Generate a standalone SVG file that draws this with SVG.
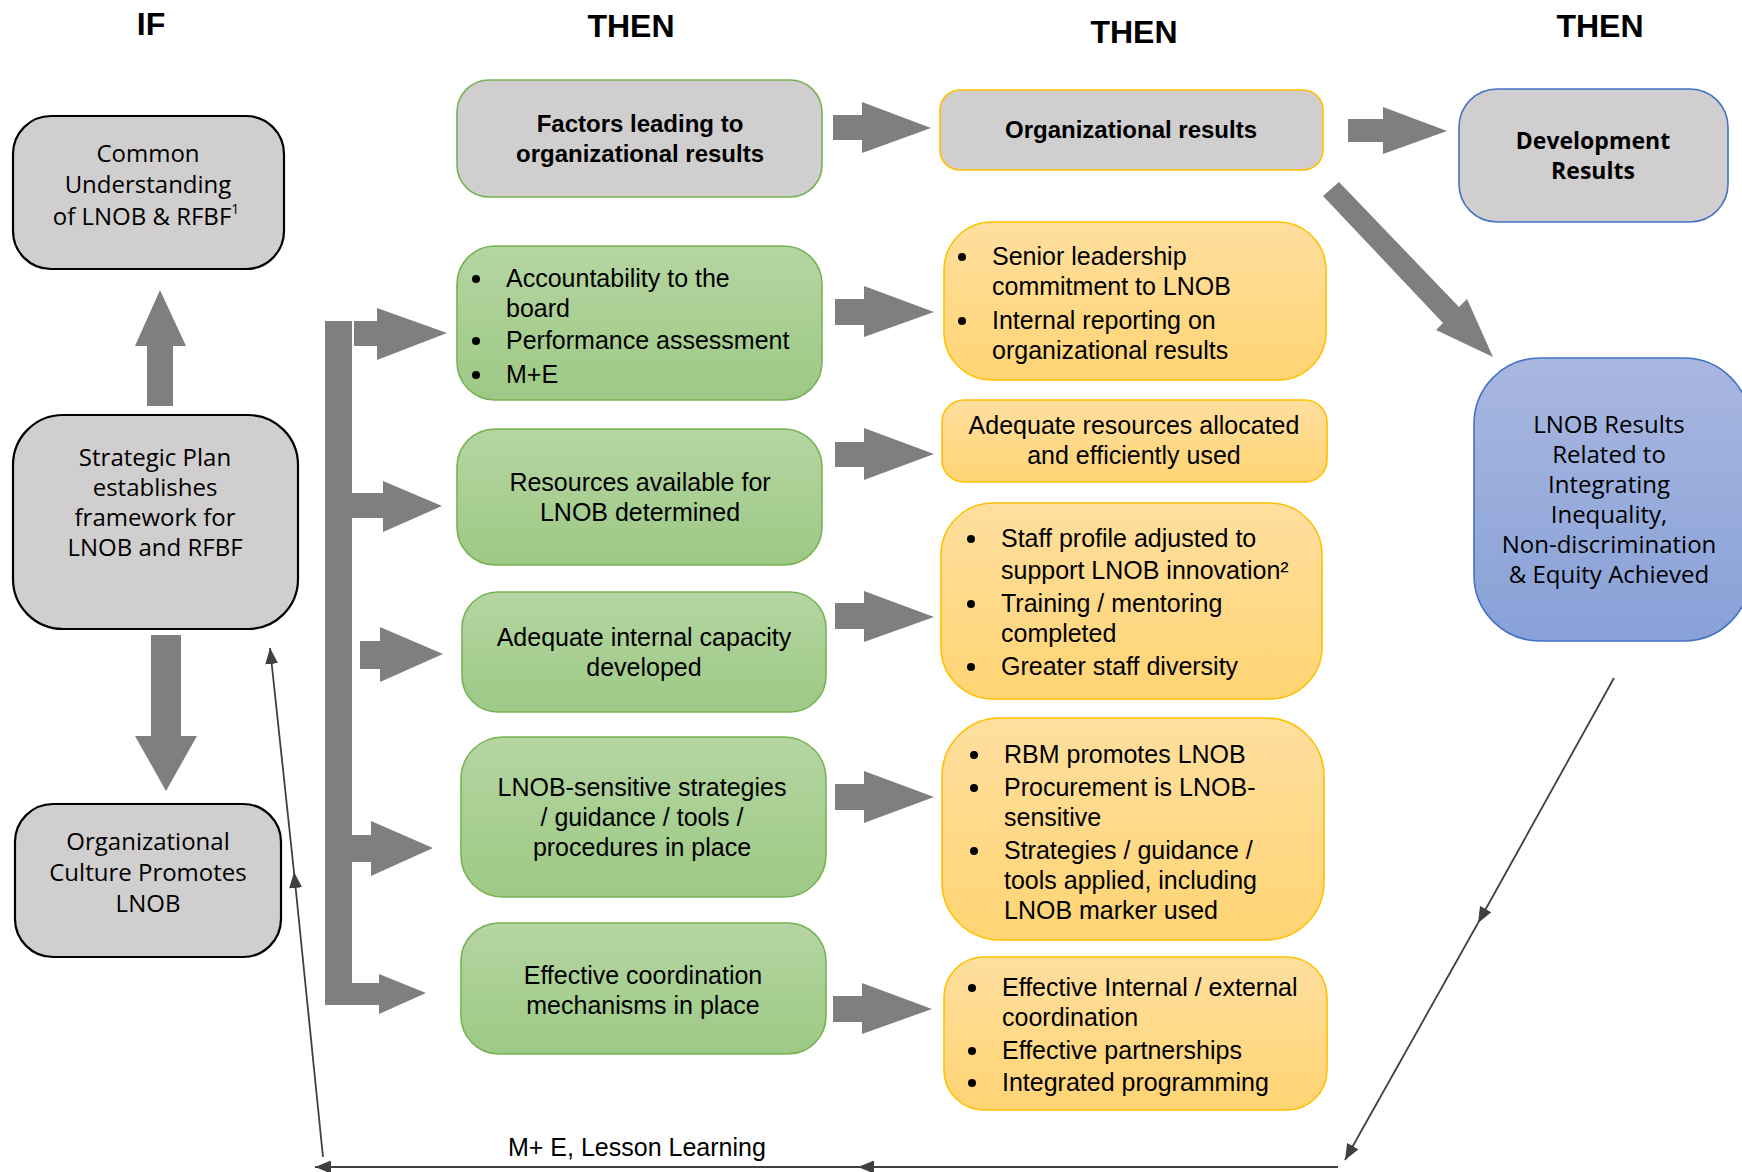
<svg xmlns="http://www.w3.org/2000/svg" width="1742" height="1172" viewBox="0 0 1742 1172">
<defs>
<linearGradient id="gGreen" x1="0" y1="0" x2="0" y2="1"><stop offset="0" stop-color="#B5D5A2"/><stop offset="1" stop-color="#9DC985"/></linearGradient>
<linearGradient id="gOrange" x1="0" y1="0" x2="0" y2="1"><stop offset="0" stop-color="#FFDF9F"/><stop offset="1" stop-color="#FFD473"/></linearGradient>
<linearGradient id="gBlue" x1="0" y1="0" x2="0" y2="1"><stop offset="0" stop-color="#A9B7E0"/><stop offset="1" stop-color="#88A1D8"/></linearGradient>
<marker id="ah" viewBox="0 0 10 10" refX="10" refY="5" markerWidth="16" markerHeight="13" markerUnits="userSpaceOnUse" orient="auto" preserveAspectRatio="none"><path d="M0,0 L10,5 L0,10 z" fill="#404040"/></marker>
<style>
.hdr{font-family:"Liberation Sans",Arial,sans-serif;font-weight:bold;font-size:32px;text-anchor:middle;fill:#000}
.lbox{fill:#D0CECE;stroke:#000;stroke-width:2.2}
.lt{font-family:"Open Sans","Noto Sans",sans-serif;font-size:24px;text-anchor:middle;fill:#000}
.gbox{fill:url(#gGreen);stroke:#77B255;stroke-width:1.6}
.obox{fill:url(#gOrange);stroke:#FFC000;stroke-width:1.6}
.t{font-family:"Liberation Sans",Arial,sans-serif;font-size:25px;fill:#000}
.c{text-anchor:middle}
.b{font-weight:bold;font-size:24px}
.ob{font-family:"Open Sans","Noto Sans",sans-serif;font-weight:bold;font-size:23px;text-anchor:middle;fill:#000}
.blk{fill:#7F7F7F}
.dot{fill:#000}
.thin{stroke:#404040;stroke-width:1.8;fill:none;marker-end:url(#ah)}
</style>
</defs>
<rect width="1742" height="1172" fill="#fff"/>

<g id="headers">
<text class="hdr" x="151" y="35">IF</text>
<text class="hdr" x="631" y="37">THEN</text>
<text class="hdr" x="1134" y="43">THEN</text>
<text class="hdr" x="1600" y="37">THEN</text>
</g>

<g id="connectors">
<polygon class="blk" points="147,406 173,406 173,346 186,346 160,290 135,346 147,346"/>
<polygon class="blk" points="151,635 181,635 181,736 197,736 166,791 135,736 151,736"/>
<rect class="blk" x="325" y="321" width="27" height="684"/>
<polygon class="blk" points="354,321 377,321 377,308 447,333 377,360 377,346 354,346"/>
<polygon class="blk" points="352,493 383,493 383,481 442,506 383,532 383,518 352,518"/>
<polygon class="blk" points="360,641 380,641 380,627 443,654 380,682 380,669 360,669"/>
<polygon class="blk" points="352,835 371,835 371,821 433,848 371,876 371,862 352,862"/>
<polygon class="blk" points="352,983 379,983 379,974 426,993 379,1014 379,1005 352,1005"/>
<polygon class="blk" points="833,115 862,115 862,102 931,128 862,153 862,140 833,140"/>
<polygon class="blk" points="835,299 864,299 864,286 934,312 864,337 864,325 835,325"/>
<polygon class="blk" points="835,442 864,442 864,428 934,454 864,480 864,467 835,467"/>
<polygon class="blk" points="835,603 864,603 864,591 934,617 864,642 864,629 835,629"/>
<polygon class="blk" points="835,784 864,784 864,771 934,797 864,823 864,810 835,810"/>
<polygon class="blk" points="833,996 862,996 862,983 932,1009 862,1034 862,1022 833,1022"/>
<polygon class="blk" points="1348,119 1383,119 1383,107 1447,131 1383,154 1383,142 1348,142"/>
<polygon class="blk" points="1323,196 1339,182 1459,307 1467,299 1493,357 1436,330 1443,323"/>
<line class="thin" x1="1614" y1="678" x2="1478" y2="923"/>
<line class="thin" x1="1478" y1="923" x2="1345" y2="1160"/>
<line class="thin" x1="1338" y1="1167" x2="858" y2="1167"/>
<line class="thin" x1="858" y1="1167" x2="315" y2="1167"/>
<line class="thin" x1="323" y1="1157" x2="294" y2="872"/>
<line class="thin" x1="294" y1="872" x2="270" y2="648"/>
<text class="t" x="508" y="1156">M+ E, Lesson Learning</text>
</g>

<g id="common-understanding">
<rect class="lbox" x="13" y="116" width="271" height="153" rx="38"/>
<text class="lt" x="148" y="162">Common</text>
<text class="lt" x="148" y="193">Understanding</text>
<text class="lt" x="146" y="225">of LNOB &amp; RFBF<tspan font-size="14" dy="-11">1</tspan></text>
</g>

<g id="strategic-plan">
<rect class="lbox" x="13" y="415" width="285" height="214" rx="50"/>
<text class="lt" x="155" y="466">Strategic Plan</text>
<text class="lt" x="155" y="496">establishes</text>
<text class="lt" x="155" y="526">framework for</text>
<text class="lt" x="155" y="556">LNOB and RFBF</text>
</g>

<g id="org-culture">
<rect class="lbox" x="15" y="804" width="266" height="153" rx="38"/>
<text class="lt" x="148" y="850">Organizational</text>
<text class="lt" x="148" y="881">Culture Promotes</text>
<text class="lt" x="148" y="912">LNOB</text>
</g>

<g id="factors">
<rect x="457" y="80" width="365" height="117" rx="32" fill="#D0CECE" stroke="#77B255" stroke-width="1.6"/>
<text class="t c b" x="640" y="132">Factors leading to</text>
<text class="t c b" x="640" y="162">organizational results</text>
</g>

<g id="accountability">
<rect class="gbox" x="457" y="246" width="365" height="154" rx="38"/>
<circle class="dot" cx="476" cy="279" r="4"/><text class="t" x="506" y="287">Accountability to the</text>
<text class="t" x="506" y="317">board</text>
<circle class="dot" cx="476" cy="341" r="4"/><text class="t" x="506" y="349">Performance assessment</text>
<circle class="dot" cx="476" cy="375" r="4"/><text class="t" x="506" y="383">M+E</text>
</g>

<g id="resources">
<rect class="gbox" x="457" y="429" width="365" height="136" rx="38"/>
<text class="t c" x="640" y="491">Resources available for</text>
<text class="t c" x="640" y="521">LNOB determined</text>
</g>

<g id="capacity">
<rect class="gbox" x="462" y="592" width="364" height="120" rx="36"/>
<text class="t c" x="644" y="646">Adequate internal capacity</text>
<text class="t c" x="644" y="676">developed</text>
</g>

<g id="strategies">
<rect class="gbox" x="461" y="737" width="365" height="160" rx="42"/>
<text class="t c" x="642" y="796">LNOB-sensitive strategies</text>
<text class="t c" x="642" y="826">/ guidance / tools /</text>
<text class="t c" x="642" y="856">procedures in place</text>
</g>

<g id="coordination">
<rect class="gbox" x="461" y="923" width="365" height="131" rx="38"/>
<text class="t c" x="643" y="984">Effective coordination</text>
<text class="t c" x="643" y="1014">mechanisms in place</text>
</g>

<g id="org-results">
<rect x="940" y="90" width="383" height="80" rx="20" fill="#D0CECE" stroke="#FFC000" stroke-width="1.6"/>
<text class="t c b" x="1131" y="138">Organizational results</text>
</g>

<g id="leadership">
<rect class="obox" x="944" y="222" width="382" height="158" rx="48"/>
<circle class="dot" cx="962" cy="257" r="4"/><text class="t" x="992" y="265">Senior leadership</text>
<text class="t" x="992" y="295">commitment to LNOB</text>
<circle class="dot" cx="962" cy="321" r="4"/><text class="t" x="992" y="329">Internal reporting on</text>
<text class="t" x="992" y="359">organizational results</text>
</g>

<g id="adequate-resources">
<rect class="obox" x="942" y="400" width="385" height="82" rx="22"/>
<text class="t c" x="1134" y="434">Adequate resources allocated</text>
<text class="t c" x="1134" y="464">and efficiently used</text>
</g>

<g id="staff">
<rect class="obox" x="941" y="503" width="381" height="196" rx="52"/>
<circle class="dot" cx="971" cy="539" r="4"/><text class="t" x="1001" y="547">Staff profile adjusted to</text>
<text class="t" x="1001" y="579">support LNOB innovation²</text>
<circle class="dot" cx="971" cy="604" r="4"/><text class="t" x="1001" y="612">Training / mentoring</text>
<text class="t" x="1001" y="642">completed</text>
<circle class="dot" cx="971" cy="667" r="4"/><text class="t" x="1001" y="675">Greater staff diversity</text>
</g>

<g id="rbm">
<rect class="obox" x="942" y="718" width="382" height="222" rx="58"/>
<circle class="dot" cx="974" cy="755" r="4"/><text class="t" x="1004" y="763">RBM promotes LNOB</text>
<circle class="dot" cx="974" cy="788" r="4"/><text class="t" x="1004" y="796">Procurement is LNOB-</text>
<text class="t" x="1004" y="826">sensitive</text>
<circle class="dot" cx="974" cy="851" r="4"/><text class="t" x="1004" y="859">Strategies / guidance /</text>
<text class="t" x="1004" y="889">tools applied, including</text>
<text class="t" x="1004" y="919">LNOB marker used</text>
</g>

<g id="coordination-results">
<rect class="obox" x="944" y="957" width="383" height="153" rx="40"/>
<circle class="dot" cx="972" cy="988" r="4"/><text class="t" x="1002" y="996">Effective Internal / external</text>
<text class="t" x="1002" y="1026">coordination</text>
<circle class="dot" cx="972" cy="1051" r="4"/><text class="t" x="1002" y="1059">Effective partnerships</text>
<circle class="dot" cx="972" cy="1083" r="4"/><text class="t" x="1002" y="1091">Integrated programming</text>
</g>

<g id="development-results">
<rect x="1459" y="89" width="269" height="133" rx="38" fill="#D0CECE" stroke="#4472C4" stroke-width="1.6"/>
<text class="ob" x="1593" y="149">Development</text>
<text class="ob" x="1593" y="179">Results</text>
</g>

<g id="lnob-results">
<rect x="1474" y="358" width="276" height="283" rx="66" fill="url(#gBlue)" stroke="#4472C4" stroke-width="1.6"/>
<text class="lt" x="1609" y="433">LNOB Results</text>
<text class="lt" x="1609" y="463">Related to</text>
<text class="lt" x="1609" y="493">Integrating</text>
<text class="lt" x="1609" y="523">Inequality,</text>
<text class="lt" x="1609" y="553">Non-discrimination</text>
<text class="lt" x="1609" y="583">&amp; Equity Achieved</text>
</g>
</svg>
